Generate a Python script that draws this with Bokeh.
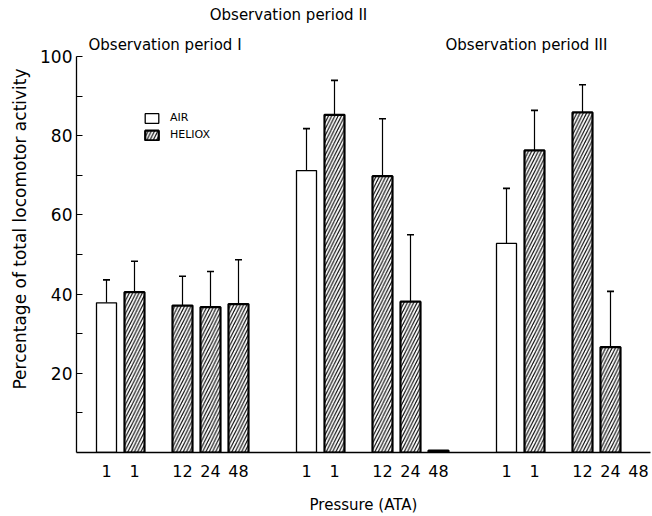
from bokeh.plotting import figure
from bokeh.models import (ColumnDataSource, Range1d, FixedTicker, Whisker, TeeHead,
                          Label, Legend, LegendItem)
from bokeh.embed import file_html
from bokeh.resources import INLINE

# ---- data ----
periods = ["I", "II", "III"]
pressure_labels = ["1", "1", "12", "24", "48"]
gas = ["AIR", "HELIOX", "HELIOX", "HELIOX", "HELIOX"]
period1_mean = [37.8, 40.5, 37.1, 36.7, 37.5]
period1_upper = [43.6, 48.3, 44.5, 45.7, 48.7]
period2_mean = [71.2, 85.3, 69.8, 38.1, 0.5]
period2_upper = [81.8, 94.0, 84.3, 55.0, None]
period3_mean = [52.8, 76.3, 85.9, 26.6, 0.0]
period3_upper = [66.7, 86.4, 92.9, 40.7, None]
y_ticks = [20, 40, 60, 80, 100]
y_minor = [10, 30, 50, 70, 90]

means = [period1_mean, period2_mean, period3_mean]
uppers = [period1_upper, period2_upper, period3_upper]

# ---- layout (positions in bar-width units) ----
first = 1.5
step = 1.4
gap = 2.4
group_spacing = 10.0
in_group = [0.0, step, step + gap, 2 * step + gap, 3 * step + gap]

FONT = "DejaVu Sans"

xs, tops, gases, labels = [], [], [], []
wx, wlo, whi = [], [], []
for g, (m, u) in enumerate(zip(means, uppers)):
    for i in range(len(pressure_labels)):
        x = round(first + g * group_spacing + in_group[i], 3)
        labels.append((x, pressure_labels[i]))
        if m[i] > 0:
            xs.append(x)
            tops.append(m[i])
            gases.append(gas[i])
        if u[i] is not None:
            wx.append(x)
            wlo.append(m[i])
            whi.append(u[i])

air_src = ColumnDataSource(dict(x=[x for x, g in zip(xs, gases) if g == "AIR"],
                                top=[t for t, g in zip(tops, gases) if g == "AIR"]))
hel_src = ColumnDataSource(dict(x=[x for x, g in zip(xs, gases) if g == "HELIOX"],
                                top=[t for t, g in zip(tops, gases) if g == "HELIOX"]))
err_src = ColumnDataSource(dict(x=wx, lower=wlo, upper=whi))

p = figure(width=652, height=516, output_backend="svg", toolbar_location=None,
           x_range=Range1d(0, 28.7), y_range=Range1d(0, 112.9),
           min_border_left=76, min_border_right=2, min_border_top=5, min_border_bottom=64)
p.outline_line_color = None
p.xgrid.visible = False
p.ygrid.visible = False
p.background_fill_color = "white"

r_air = p.vbar(x="x", top="top", bottom=0, width=1.0, source=air_src,
               fill_color="white", line_color="black", line_width=1.3)
r_hel = p.vbar(x="x", top="top", bottom=0, width=1.0, source=hel_src,
               fill_color="white", line_color="black", line_width=2.2,
               hatch_pattern="right_diagonal_line", hatch_color="black",
               hatch_scale=6.5, hatch_weight=1.1)

w = Whisker(source=err_src, base="x", lower="lower", upper="upper",
            line_color="black", line_width=1.2,
            upper_head=TeeHead(size=7, line_width=1.6, line_color="black"),
            lower_head=None)
p.add_layout(w)

# y axis
ya = p.yaxis[0]
ya.ticker = FixedTicker(ticks=y_ticks, minor_ticks=y_minor)
ya.bounds = (0, 100)
ya.major_tick_in = 6
ya.major_tick_out = 0
ya.minor_tick_in = 6
ya.minor_tick_out = 0
ya.axis_line_width = 1.3
ya.major_tick_line_width = 1.2
ya.minor_tick_line_width = 1.2
ya.minor_tick_line_color = "black"
ya.major_label_standoff = 4
ya.major_label_text_font = FONT
ya.major_label_text_font_size = "17px"
ya.major_label_text_color = "black"
ya.axis_label = "Percentage of total locomotor activity"
ya.axis_label_text_font = FONT
ya.axis_label_text_font_size = "17px"
ya.axis_label_text_font_style = "normal"
ya.axis_label_text_color = "black"
ya.axis_label_standoff = 7

# x axis
xa = p.xaxis[0]
xa.ticker = FixedTicker(ticks=[x for x, _ in labels])
xa.major_label_overrides = {x: t for x, t in labels}
xa.major_tick_in = 0
xa.major_tick_out = 0
xa.minor_tick_in = 0
xa.minor_tick_out = 0
xa.axis_line_width = 1.3
xa.major_label_standoff = 12
xa.major_label_text_font = FONT
xa.major_label_text_font_size = "16px"
xa.major_label_text_color = "black"
xa.axis_label = "Pressure (ATA)"
xa.axis_label_text_font = FONT
xa.axis_label_text_font_size = "15px"
xa.axis_label_text_font_style = "normal"
xa.axis_label_text_color = "black"
xa.axis_label_standoff = 16

# period titles
title_specs = [
    (0.6, 103.0, "left"),
    (10.6, 110.6, "center"),
    (18.45, 103.0, "left"),
]
for (tx, ty, al), per in zip(title_specs, periods):
    p.add_layout(Label(x=tx, y=ty, text="Observation period " + per,
                       text_font=FONT, text_font_size="15px", text_color="black",
                       text_align=al, text_baseline="middle"))

legend = Legend(items=[LegendItem(label="AIR", renderers=[r_air]),
                       LegendItem(label="HELIOX", renderers=[r_hel])],
                location=(67, 311), orientation="vertical")
legend.background_fill_alpha = 0
legend.border_line_color = None
legend.padding = 0
legend.margin = 0
legend.spacing = 4
legend.glyph_width = 17
legend.glyph_height = 12
legend.label_height = 12
legend.label_standoff = 10
legend.label_text_font = FONT
legend.label_text_font_size = "11px"
legend.label_text_color = "black"
legend.label_text_baseline = "middle"
p.add_layout(legend)

open("out.html", "w").write(file_html(p, INLINE))
